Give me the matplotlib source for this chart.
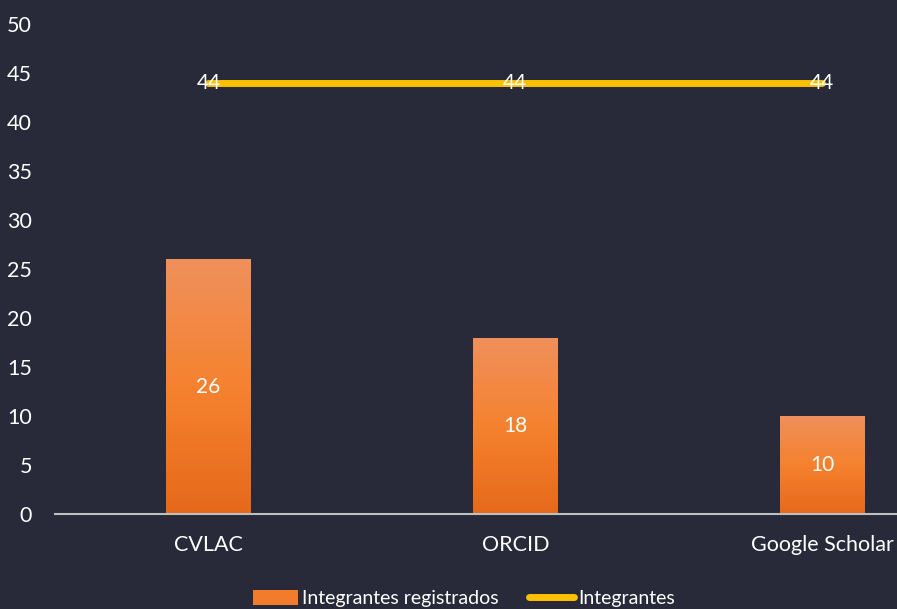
import numpy as np
import matplotlib.pyplot as plt
from matplotlib.colors import LinearSegmentedColormap
from matplotlib.patches import Patch
from matplotlib.lines import Line2D

categories = ["CVLAC", "ORCID", "Google Scholar"]
registrados = [26, 18, 10]
integrantes = [44, 44, 44]

bg = "#282a3a"
plt.rcParams['font.family'] = ['Lato', 'DejaVu Sans']

fig = plt.figure(figsize=(8.97, 6.09), dpi=100, facecolor=bg)
ax = fig.add_axes([0.0613, 0.156, 0.9387, 0.8046], facecolor=bg)

x = np.arange(len(categories))
bars = ax.bar(x, registrados, width=0.277, color="#f07c2c", zorder=2)

# gradient fill on bars
cmap = LinearSegmentedColormap.from_list("og", ["#e6691a", "#f5822f", "#f0905c"])
grad = np.linspace(0, 1, 256).reshape(-1, 1)
for b in bars:
    bx, by = b.get_x(), b.get_y()
    im = ax.imshow(grad, extent=[bx, bx + b.get_width(), by, by + b.get_height()],
                   origin="lower", aspect="auto", cmap=cmap, zorder=2.1)
    im.set_clip_path(b)

for xi, v in zip(x, registrados):
    ax.text(xi, v / 2, str(v), ha="center", va="center", color="white", fontsize=15, zorder=4)

ax.plot(x, integrantes, color="#ffc000", lw=5, zorder=3, solid_capstyle="round")
for xi, v in zip(x, integrantes):
    ax.text(xi, v, str(v), ha="center", va="center", color="white", fontsize=15, zorder=4)

ax.set_xlim(-0.5, 2.244)
ax.set_ylim(0, 50)
ax.set_yticks(range(0, 51, 5))
ax.set_xticks(x)
ax.set_xticklabels(categories)
ax.tick_params(axis="y", length=0, pad=16.5, labelsize=15.5, colors="white")
ax.tick_params(axis="x", length=0, pad=15, labelsize=15.5, colors="white")
for lab in ax.get_yticklabels():
    lab.set_horizontalalignment("right")
for s in ["top", "right", "left"]:
    ax.spines[s].set_visible(False)
ax.spines["bottom"].set_color("#bfbfbf")
ax.spines["bottom"].set_linewidth(1.5)

handles = [Patch(facecolor="#f07c2c", edgecolor="none"),
           Line2D([0], [0], color="#ffc000", lw=5, solid_capstyle="round")]
fig.legend(handles, ["Integrantes registrados", "Integrantes"], loc="center",
           bbox_to_anchor=(0.517, 0.017), ncol=2, frameon=False, fontsize=14,
           labelcolor="white", handlelength=2.3, handletextpad=0.2, columnspacing=1.6,
           handleheight=0.85)

fig.savefig("out.png", dpi=100, facecolor=bg)
